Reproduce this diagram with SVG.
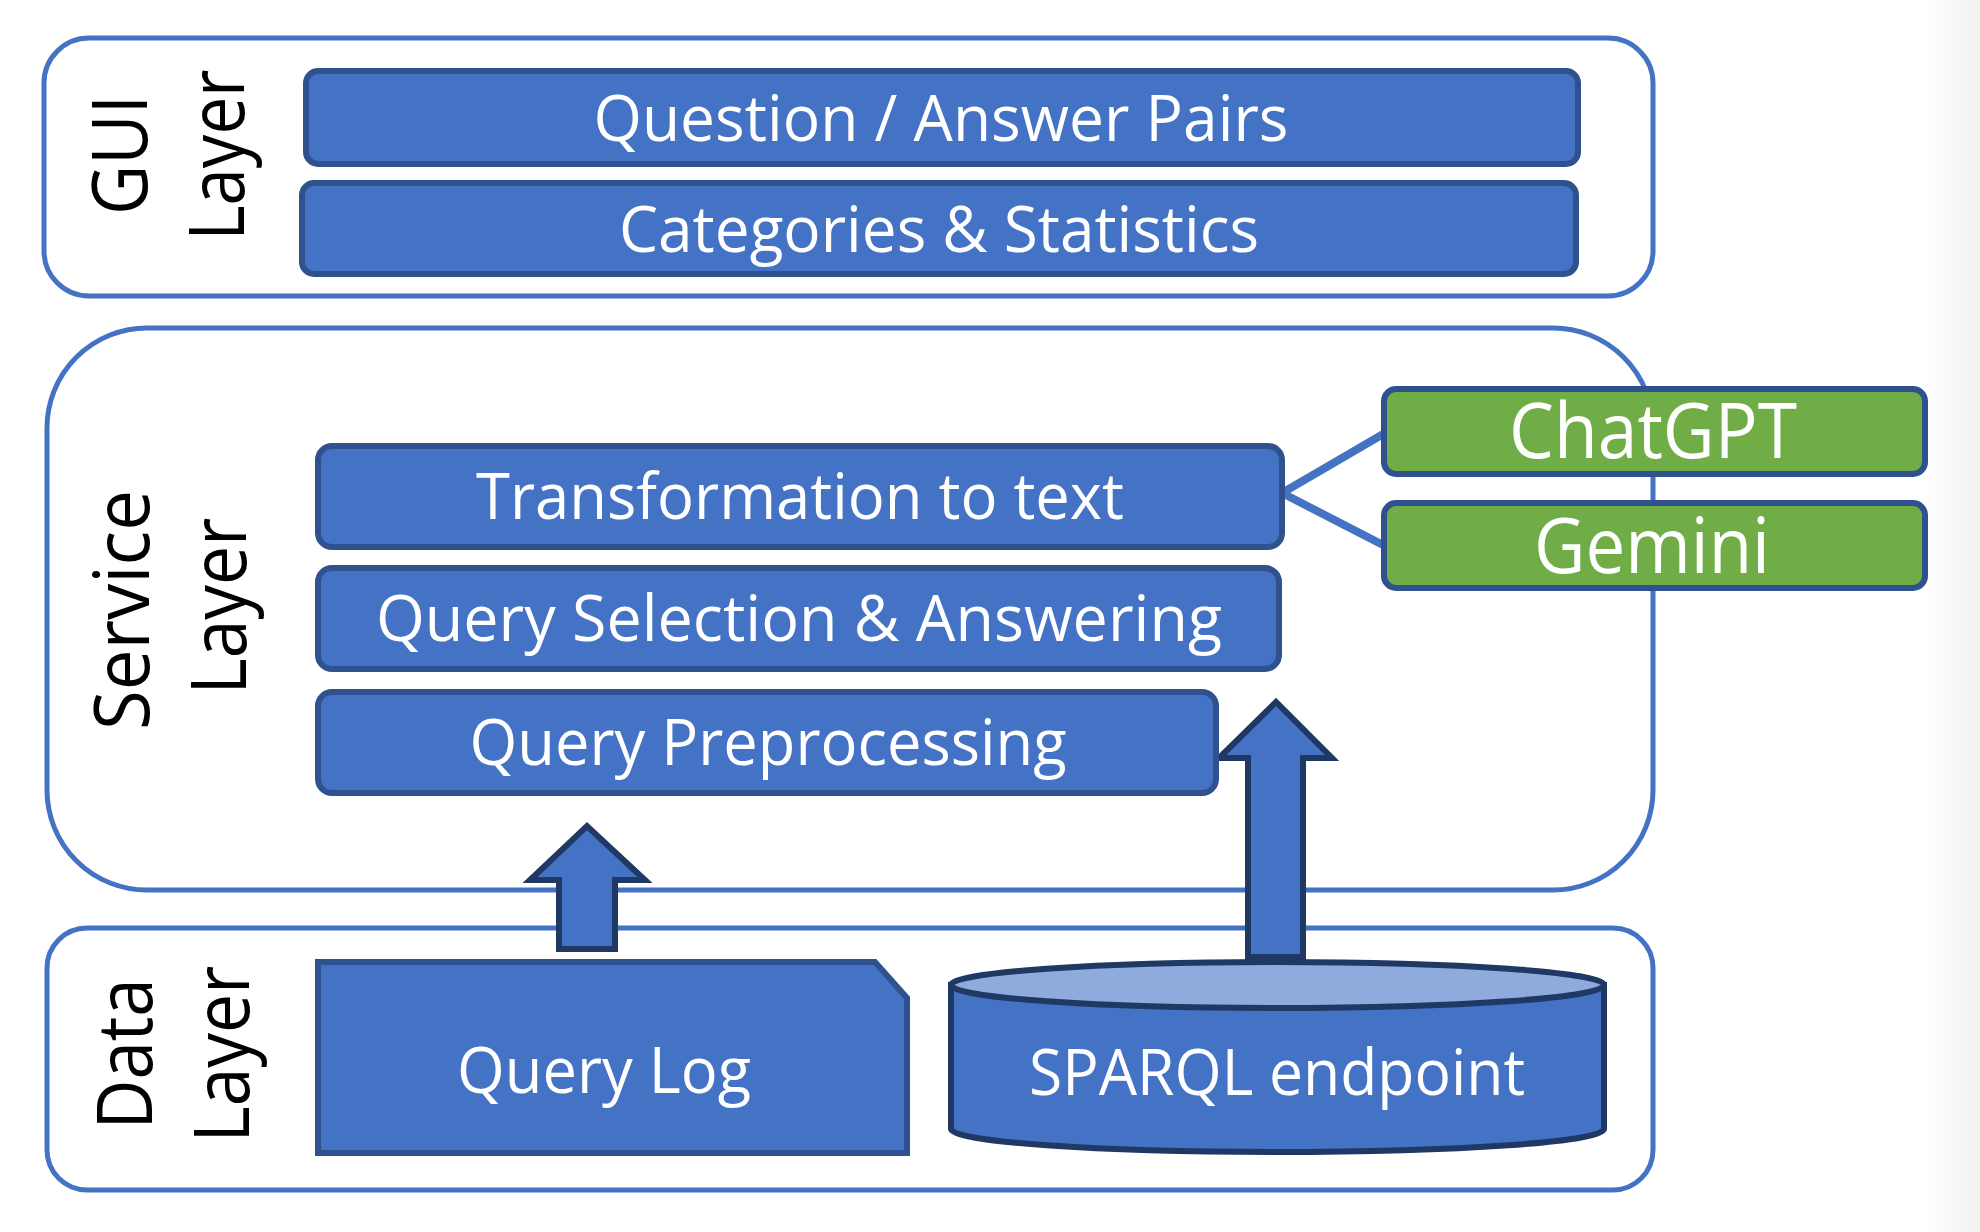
<svg xmlns="http://www.w3.org/2000/svg" width="1980" height="1232" viewBox="0 0 1980 1232">
<defs>
<linearGradient id="edge" x1="0" y1="0" x2="1" y2="0">
<stop offset="0" stop-color="#ffffff"/>
<stop offset="1" stop-color="#f2f2f2"/>
</linearGradient>
</defs>
<style>
.layer{fill:#ffffff;stroke:#4472C4;stroke-width:5}
.box{fill:#4472C4;stroke:#2F528F;stroke-width:6}
.gbox{fill:#70AD47;stroke:#2F528F;stroke-width:6}
.dark{fill:#4472C4;stroke:#1F3864;stroke-width:6}
.t{font-family:"Open Sans","Liberation Sans",sans-serif;fill:#ffffff;font-size:64px;text-anchor:middle}
.lbl{font-family:"Open Sans","DejaVu Sans",sans-serif;fill:#000000;font-size:76px;text-anchor:middle}
.conn{stroke:#4472C4;stroke-width:8;fill:none}
</style>
<rect x="0" y="0" width="1980" height="1232" fill="#ffffff"/>
<rect x="1925" y="0" width="55" height="1232" fill="url(#edge)"/>

<g id="gui-layer">
<rect class="layer" x="44" y="38" width="1609" height="258" rx="45"/>
<text class="lbl" transform="translate(147,155) rotate(-90)" textLength="120" lengthAdjust="spacingAndGlyphs">GUI</text>
<text class="lbl" transform="translate(244,155) rotate(-90)" textLength="171" lengthAdjust="spacingAndGlyphs">Layer</text>
</g>

<g id="service-layer">
<rect class="layer" x="47" y="328" width="1606" height="562" rx="100"/>
<text class="lbl" transform="translate(149,610) rotate(-90)" textLength="240" lengthAdjust="spacingAndGlyphs">Service</text>
<text class="lbl" transform="translate(246,606) rotate(-90)" textLength="177" lengthAdjust="spacingAndGlyphs">Layer</text>
</g>

<g id="data-layer">
<rect class="layer" x="47" y="928" width="1606" height="262" rx="40"/>
<text class="lbl" transform="translate(152,1054) rotate(-90)" textLength="151" lengthAdjust="spacingAndGlyphs">Data</text>
<text class="lbl" transform="translate(249,1054) rotate(-90)" textLength="177" lengthAdjust="spacingAndGlyphs">Layer</text>
</g>

<g id="connectors">
<line class="conn" x1="1282" y1="493" x2="1385" y2="433"/>
<line class="conn" x1="1282" y1="493" x2="1385" y2="546"/>
<path class="dark" d="M559,949 L559,880 L530,880 L587,826 L645,880 L615,880 L615,949 Z"/>
<path class="dark" d="M1248,957 L1248,758 L1219,758 L1276,702 L1332,758 L1303,758 L1303,957 Z"/>
</g>

<g id="qa-pairs">
<rect class="box" x="306" y="71" width="1272" height="93" rx="12"/>
<text class="t" x="941" y="141" textLength="695" lengthAdjust="spacingAndGlyphs">Question / Answer Pairs</text>
</g>

<g id="categories">
<rect class="box" x="302" y="183" width="1274" height="91" rx="12"/>
<text class="t" x="939" y="252" textLength="640" lengthAdjust="spacingAndGlyphs">Categories &amp; Statistics</text>
</g>

<g id="transformation">
<rect class="box" x="318" y="446" width="964" height="101" rx="14"/>
<text class="t" x="800" y="519" textLength="648" lengthAdjust="spacingAndGlyphs">Transformation to text</text>
</g>

<g id="query-selection">
<rect class="box" x="318" y="568" width="961" height="101" rx="14"/>
<text class="t" x="799" y="641" textLength="846" lengthAdjust="spacingAndGlyphs">Query Selection &amp; Answering</text>
</g>

<g id="query-preprocessing">
<rect class="box" x="318" y="692" width="898" height="101" rx="14"/>
<text class="t" x="768" y="765" textLength="597" lengthAdjust="spacingAndGlyphs">Query Preprocessing</text>
</g>

<g id="chatgpt">
<rect class="gbox" x="1384" y="389" width="541" height="85" rx="12"/>
<text class="t" x="1653" y="458" style="font-size:76px" textLength="288" lengthAdjust="spacingAndGlyphs">ChatGPT</text>
</g>

<g id="gemini">
<rect class="gbox" x="1384" y="503" width="541" height="85" rx="12"/>
<text class="t" x="1652" y="573" style="font-size:76px" textLength="236" lengthAdjust="spacingAndGlyphs">Gemini</text>
</g>

<g id="query-log">
<path class="box" d="M318,962 L875,962 L907,998 L907,1153 L318,1153 Z"/>
<text class="t" x="604" y="1093" textLength="294" lengthAdjust="spacingAndGlyphs">Query Log</text>
</g>

<g id="sparql-endpoint">
<path class="dark" d="M951,985 L951,1129 A326.5,23 0 0 0 1604,1129 L1604,985 Z"/>
<ellipse cx="1277.5" cy="985" rx="326.5" ry="23" fill="#8FAADC" stroke="#1F3864" stroke-width="6"/>
<text class="t" x="1277" y="1095" textLength="496" lengthAdjust="spacingAndGlyphs">SPARQL endpoint</text>
</g>
</svg>
